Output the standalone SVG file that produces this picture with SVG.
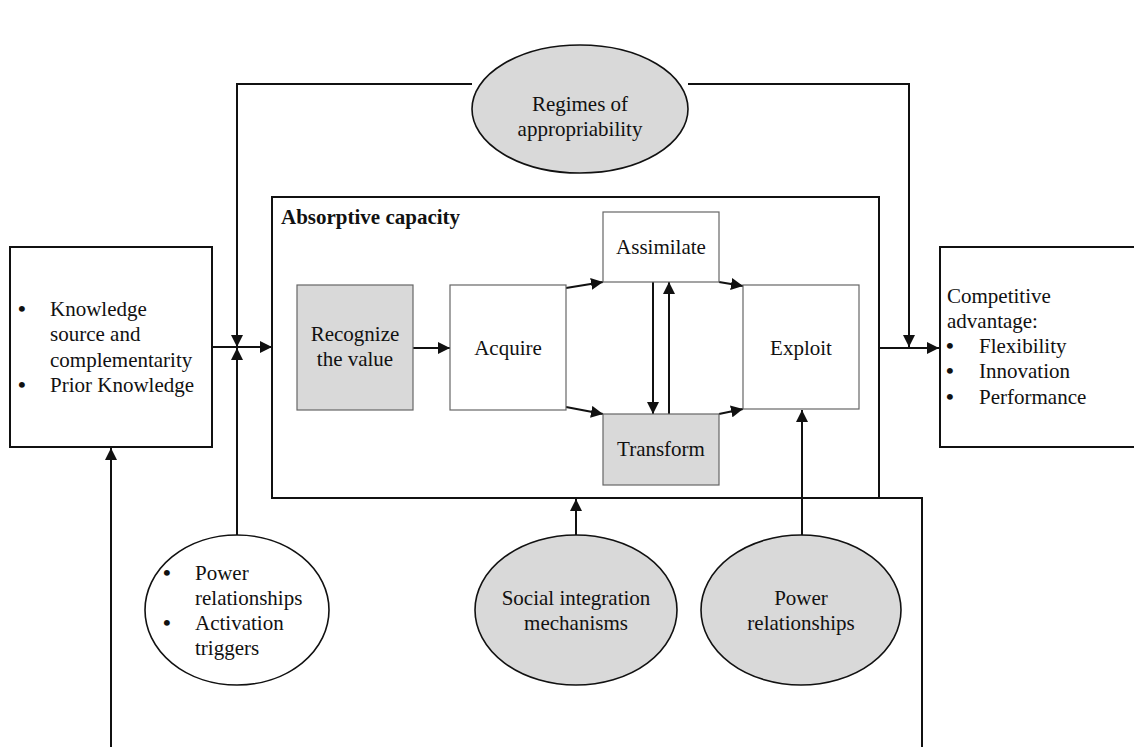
<svg xmlns="http://www.w3.org/2000/svg" width="1134" height="747" viewBox="0 0 1134 747">
  <style>
    text { font-family: "Liberation Serif", "Times New Roman", serif; font-size: 21px; fill: #111; }
    .c { text-anchor: middle; }
    .b { font-weight: bold; }
    .dot { font-size: 22px; font-weight: bold; }
    .frame { fill: #fff; stroke: #111; stroke-width: 2; }
    .open { fill: none; }
    .step { fill: #fff; stroke: #666; stroke-width: 1.2; }
    .step.g { fill: #d9d9d9; }
    .oval { fill: #d9d9d9; stroke: #111; stroke-width: 1.6; }
    .oval.w { fill: #fff; }
    .wire { fill: none; stroke: #111; stroke-width: 2; }
    .arr { marker-end: url(#head); }
  </style>
  <defs>
    <marker id="head" markerUnits="userSpaceOnUse" viewBox="0 0 12 12" refX="12" refY="6" markerWidth="12" markerHeight="12" orient="auto">
      <path d="M0,0 L12,6 L0,12 z" fill="#111"/>
    </marker>
  </defs>

  <rect width="1134" height="747" fill="#fff"/>

  <g id="absorptive-capacity">
    <rect class="frame open" x="272" y="197" width="607" height="301"/>
    <text class="b" x="281" y="224">Absorptive capacity</text>
  </g>

  <!-- connectors -->
  <g id="connectors">
    <!-- regimes of appropriability feeds both junctions -->
    <polyline class="wire arr" points="472,84 237,84 237,347"/>
    <polyline class="wire arr" points="688,84 909,84 909,347"/>
    <!-- knowledge source into absorptive capacity -->
    <line class="wire arr" x1="212" y1="347" x2="272" y2="347"/>
    <!-- activation triggers -->
    <line class="wire arr" x1="237" y1="535" x2="237" y2="348"/>
    <!-- absorptive capacity to competitive advantage -->
    <line class="wire arr" x1="879" y1="348" x2="939" y2="348"/>
    <!-- social integration mechanisms -->
    <line class="wire arr" x1="576" y1="535" x2="576" y2="499"/>
    <!-- power relationships to exploit -->
    <line class="wire arr" x1="802" y1="535" x2="802" y2="410"/>
    <!-- feedback loop -->
    <polyline class="wire" points="879,498 922,498 922,747"/>
    <line class="wire arr" x1="111" y1="747" x2="111" y2="448"/>
    <!-- process flow -->
    <line class="wire arr" x1="413" y1="348" x2="450" y2="348"/>
    <line class="wire arr" x1="566" y1="288" x2="603" y2="282"/>
    <line class="wire arr" x1="566" y1="407" x2="603" y2="414"/>
    <line class="wire arr" x1="719" y1="282" x2="743" y2="286"/>
    <line class="wire arr" x1="719" y1="414" x2="743" y2="409"/>
    <line class="wire arr" x1="653" y1="282" x2="653" y2="414"/>
    <line class="wire arr" x1="669" y1="414" x2="669" y2="282"/>
  </g>

  <g id="knowledge-source">
    <rect class="frame" x="10" y="247" width="202" height="200"/>
    <text class="dot" x="18" y="316">•</text>
    <text x="50" y="316">Knowledge</text>
    <text x="50" y="341">source and</text>
    <text x="50" y="367">complementarity</text>
    <text class="dot" x="18" y="392">•</text>
    <text x="50" y="392">Prior Knowledge</text>
  </g>

  <g id="competitive-advantage">
    <rect class="frame" x="940" y="247" width="210" height="200"/>
    <text x="947" y="303">Competitive</text>
    <text x="947" y="328">advantage:</text>
    <text class="dot" x="946" y="353">•</text>
    <text x="979" y="353">Flexibility</text>
    <text class="dot" x="946" y="378">•</text>
    <text x="979" y="378">Innovation</text>
    <text class="dot" x="946" y="404">•</text>
    <text x="979" y="404">Performance</text>
  </g>

  <g id="recognize">
    <rect class="step g" x="297" y="285" width="116" height="125"/>
    <text class="c" x="355" y="341">Recognize</text>
    <text class="c" x="355" y="366">the value</text>
  </g>

  <g id="acquire">
    <rect class="step" x="450" y="285" width="116" height="125"/>
    <text class="c" x="508" y="355">Acquire</text>
  </g>

  <g id="assimilate">
    <rect class="step" x="603" y="212" width="116" height="70"/>
    <text class="c" x="661" y="254">Assimilate</text>
  </g>

  <g id="transform">
    <rect class="step g" x="603" y="414" width="116" height="71"/>
    <text class="c" x="661" y="456">Transform</text>
  </g>

  <g id="exploit">
    <rect class="step" x="743" y="285" width="116" height="124"/>
    <text class="c" x="801" y="355">Exploit</text>
  </g>

  <g id="regimes">
    <ellipse class="oval" cx="580" cy="109" rx="108" ry="64"/>
    <text class="c" x="580" y="111">Regimes of</text>
    <text class="c" x="580" y="136">appropriability</text>
  </g>

  <g id="triggers">
    <ellipse class="oval w" cx="237" cy="610" rx="92" ry="75"/>
    <text class="dot" x="163" y="580">•</text>
    <text x="195" y="580">Power</text>
    <text x="195" y="605">relationships</text>
    <text class="dot" x="163" y="630">•</text>
    <text x="195" y="630">Activation</text>
    <text x="195" y="655">triggers</text>
  </g>

  <g id="social-integration">
    <ellipse class="oval" cx="576" cy="610" rx="101" ry="75"/>
    <text class="c" x="576" y="605">Social integration</text>
    <text class="c" x="576" y="630">mechanisms</text>
  </g>

  <g id="power-relationships">
    <ellipse class="oval" cx="801" cy="610" rx="100" ry="75"/>
    <text class="c" x="801" y="605">Power</text>
    <text class="c" x="801" y="630">relationships</text>
  </g>
</svg>
